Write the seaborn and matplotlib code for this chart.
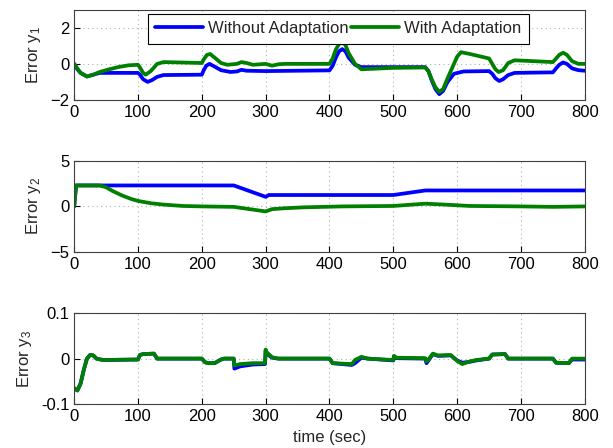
import matplotlib
matplotlib.use("Agg")
import matplotlib.pyplot as plt
import seaborn as sns
import pandas as pd

# ---- data ----
series_names = ["Without Adaptation", "With Adaptation"]
xticks = [0, 100, 200, 300, 400, 500, 600, 700, 800]

t1_blue = [0, 5, 10, 20, 30, 40, 100, 103, 108, 115, 122, 130, 140, 200, 203, 207, 212, 220, 230, 245,
           255, 262, 270, 300, 400, 405, 410, 415, 420, 425, 430, 440, 450, 550, 555, 560, 566, 572, 578,
           585, 595, 610, 650, 655, 660, 666, 672, 680, 690, 750, 755, 760, 766, 772, 780, 790, 800]
y1_blue = [0, -0.3, -0.5, -0.7, -0.6, -0.5, -0.5, -0.6, -0.85, -1.0, -0.9, -0.72, -0.62, -0.6, -0.35, -0.1,
           0.0, -0.15, -0.35, -0.45, -0.42, -0.33, -0.38, -0.4, -0.36, -0.1, 0.35, 0.7, 0.82, 0.7, 0.35,
           -0.05, -0.18, -0.18, -0.4, -0.9, -1.4, -1.68, -1.5, -1.0, -0.55, -0.42, -0.4, -0.55, -0.8, -0.95,
           -0.85, -0.62, -0.5, -0.47, -0.25, -0.05, 0.08, 0.0, -0.25, -0.35, -0.38]

t1_green = [0, 10, 20, 30, 40, 55, 70, 85, 100, 103, 108, 112, 120, 130, 140, 200, 203, 208, 213, 220, 230,
            240, 255, 262, 270, 280, 300, 310, 320, 330, 400, 405, 410, 415, 420, 425, 430, 440, 450, 500,
            550, 555, 560, 566, 572, 578, 585, 595, 600, 606, 620, 650, 655, 660, 665, 672, 680, 690, 750,
            755, 760, 766, 772, 780, 790, 800]
y1_green = [0, -0.5, -0.7, -0.6, -0.45, -0.3, -0.17, -0.08, -0.05, -0.2, -0.5, -0.6, -0.4, 0.0, 0.1, 0.05,
            0.25, 0.5, 0.55, 0.35, 0.05, -0.05, 0.0, 0.1, 0.05, -0.05, 0.0, -0.1, -0.02, 0.0, 0.0, 0.3, 0.8,
            1.1, 1.2, 1.05, 0.6, 0.0, -0.3, -0.22, -0.2, -0.4, -0.85, -1.3, -1.55, -1.4, -0.8, 0.0, 0.4,
            0.65, 0.55, 0.3, 0.0, -0.3, -0.45, -0.35, 0.05, 0.2, 0.1, 0.3, 0.5, 0.62, 0.5, 0.15, 0.0, 0.0]

t2_blue = [0, 3, 250, 300, 305, 500, 550, 800]
y2_blue = [0, 2.3, 2.3, 1.05, 1.25, 1.25, 1.75, 1.75]

t2_green = [0, 3, 40, 50, 60, 75, 90, 100, 120, 140, 170, 200, 250, 270, 290, 300, 310, 330, 360, 420,
            500, 520, 550, 580, 620, 700, 750, 800]
y2_green = [0, 2.3, 2.3, 2.1, 1.7, 1.2, 0.8, 0.6, 0.35, 0.2, 0.05, 0.0, -0.05, -0.25, -0.45, -0.55, -0.3,
            -0.2, -0.1, 0.0, 0.05, 0.15, 0.3, 0.2, 0.05, 0.0, -0.05, 0.0]

t3 = [0, 5, 10, 15, 20, 25, 30, 35, 45, 100, 103, 108, 125, 130, 200, 205, 210, 220, 230, 235, 250, 251,
      260, 280, 299, 300, 301, 310, 320, 400, 405, 435, 440, 450, 460, 500, 501, 505, 550, 552, 555, 562,
      570, 590, 600, 608, 620, 630, 650, 655, 675, 680, 750, 755, 775, 780, 800]
y3_green = [-0.065, -0.07, -0.055, -0.025, 0.0, 0.008, 0.007, 0.0, -0.003, -0.002, 0.008, 0.01, 0.011, 0.0,
            0.0, -0.008, -0.01, -0.01, -0.002, 0.0, 0.0, -0.015, -0.012, -0.01, -0.01, 0.02, 0.015, 0.003,
            0.0, 0.0, -0.01, -0.012, -0.003, 0.004, 0.0, -0.003, 0.006, 0.002, 0.001, -0.006, -0.002, 0.011,
            0.007, 0.008, -0.005, -0.012, -0.006, -0.003, 0.0, 0.009, 0.01, 0.0, 0.0, -0.009, -0.01, 0.0, 0.0]
y3_blue = [-0.065, -0.07, -0.055, -0.025, 0.0, 0.008, 0.007, 0.0, -0.003, -0.002, 0.008, 0.01, 0.011, 0.0,
           0.0, -0.008, -0.01, -0.01, -0.002, 0.0, 0.0, -0.022, -0.017, -0.013, -0.012, 0.018, 0.012, 0.002,
           0.0, 0.0, -0.01, -0.014, -0.01, 0.002, 0.0, -0.004, 0.005, 0.001, 0.0, -0.01, -0.004, 0.01,
           0.006, 0.007, -0.004, -0.009, -0.007, -0.004, 0.0, 0.009, 0.01, 0.0, 0.0, -0.009, -0.01,
           -0.002, -0.002]

ylabels = [r"Error y$_1$", r"Error y$_2$", r"Error y$_3$"]
ylims = [(-2, 3), (-5, 5), (-0.1, 0.1)]
yticks = [[-2, 0, 2], [-5, 0, 5], [-0.1, 0, 0.1]]

# ---- style ----
sns.set_style("ticks")
plt.rcParams["font.family"] = ["Liberation Sans", "DejaVu Sans"]
plt.rcParams["mathtext.fontset"] = "custom"
plt.rcParams["mathtext.rm"] = "Liberation Sans"
plt.rcParams["mathtext.it"] = "Liberation Sans"

colors = {"Without Adaptation": "#0000ff", "With Adaptation": "#008000"}

fig = plt.figure(figsize=(6.13, 4.48), dpi=100)
left, width = 0.121, 0.833
boxes = [(0.777, 0.201), (0.4375, 0.2035), (0.098, 0.203)]
axes = [fig.add_axes([left, b, width, h]) for b, h in boxes]

panels = [
    ((t1_blue, y1_blue), (t1_green, y1_green)),
    ((t2_blue, y2_blue), (t2_green, y2_green)),
    ((t3, y3_blue), (t3, y3_green)),
]

for i, (ax, panel) in enumerate(zip(axes, panels)):
    frames = []
    for name, (tt, yy) in zip(series_names, panel):
        frames.append(pd.DataFrame({"t": tt, "y": yy, "series": name}))
    df = pd.concat(frames, ignore_index=True)
    sns.lineplot(data=df, x="t", y="y", hue="series", hue_order=series_names,
                 palette=colors, estimator=None, sort=False, linewidth=2.7,
                 ax=ax, legend=(i == 0))
    ax.set_xlim(0, 800)
    ax.set_ylim(*ylims[i])
    ax.set_xticks(xticks)
    ax.set_yticks(yticks[i])
    if i == 2:
        ax.set_yticklabels(["-0.1", "0", "0.1"])
    ax.grid(True, linestyle=(0, (1, 3)), color="#b0b0b0", linewidth=0.8)
    ax.tick_params(direction="in", labelsize=12, length=4, colors="black")
    ax.set_ylabel(ylabels[i], fontsize=12, labelpad=5)
    ax.set_xlabel("time (sec)" if i == 2 else "", fontsize=12)
    for s in ax.spines.values():
        s.set_visible(True)
        s.set_color("#404040")
        s.set_linewidth(0.8)

leg = axes[0].legend(loc="upper center", bbox_to_anchor=(0.517, 1.05), ncol=2,
                     frameon=True, fancybox=False, edgecolor="black", fontsize=12,
                     handlelength=2.9, columnspacing=0.1, borderpad=0.45, handletextpad=0.3)
leg.get_frame().set_linewidth(0.8)
leg.get_frame().set_alpha(1)
for line in leg.get_lines():
    line.set_linewidth(2.7)

fig.savefig("out.png", dpi=100)
